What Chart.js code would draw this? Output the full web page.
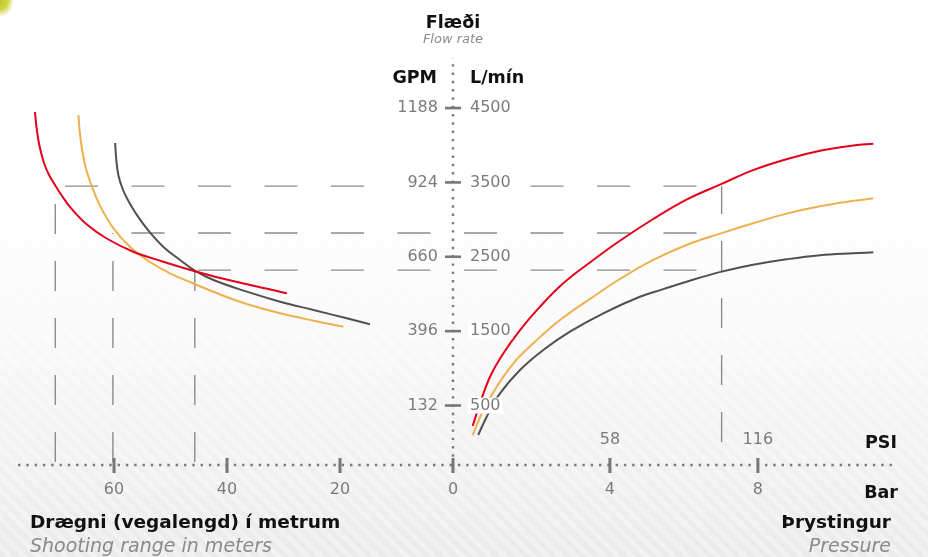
<!DOCTYPE html>
<html>
<head>
<meta charset="utf-8">
<script src="https://cdn.jsdelivr.net/npm/chart.js@4"></script>
<style>
  html, body { margin: 0; padding: 0; }
  body {
    width: 928px; height: 557px; overflow: hidden; position: relative;
    font-family: "DejaVu Sans", sans-serif;
    background:
      radial-gradient(ellipse 14px 17px at 0 0, #c2c62a 0, #cfd33e 55%, rgba(225,228,140,0) 100%),
      linear-gradient(to bottom, #ffffff 0%, #ffffff 34%, rgba(255,255,255,0.75) 60%, rgba(255,255,255,0.15) 100%),
      repeating-linear-gradient(45deg, #e7e7e7 0 5px, #efefef 5px 10px);
  }
  #wrap { position: absolute; left: 0; top: 0; width: 928px; height: 557px; }
  .t { position: absolute; white-space: nowrap; line-height: 1.164; font-family: "DejaVu Sans", sans-serif; }
  .b { font-weight: bold; color: #111; }
  .i { font-style: italic; color: #8a8a8a; }
</style>
</head>
<body>
<div id="wrap"><canvas id="c"></canvas></div>

<div class="t b" style="font-size:17.5px; left:453px; top:11.8px; transform:translateX(-50%);">Flæði</div>
<div class="t i" style="font-size:13px; left:453px; top:31.4px; transform:translateX(-50%);">Flow rate</div>
<div class="t b" style="font-size:17.5px; right:491px; top:66.8px;">GPM</div>
<div class="t b" style="font-size:17.5px; left:470px; top:66.8px;">L/mín</div>
<div class="t b" style="font-size:17.5px; right:31px; top:431.8px;">PSI</div>
<div class="t b" style="font-size:17.5px; right:30px; top:481.8px;">Bar</div>
<div class="t b" style="font-size:18.5px; left:30px; top:511.3px;">Drægni (vegalengd) í metrum</div>
<div class="t i" style="font-size:19px; left:30px; top:533.9px;">Shooting range in meters</div>
<div class="t b" style="font-size:18.5px; right:37px; top:511.3px;">Þrystingur</div>
<div class="t i" style="font-size:19px; right:37px; top:533.9px;">Pressure</div>

<script>
// ---------- Axis ticks ----------
const flowTicksLpm = [500, 1500, 2500, 3500, 4500];
const flowTicksGpm = [132, 396, 660, 924, 1188];
const rangeTicks = [60, 40, 20, 0];
const barTicks = [4, 8];
const psiTicks = [58, 116];

// ---------- Left panel: shooting range (m) vs flow (L/min) ----------
const redRangeM     = [74.0, 73.75, 73.4, 72.9, 72.3, 71.5, 70.4, 69.2, 67.8, 64.8, 61.3, 56.6, 51.3, 46.0, 41.2, 29.4];
const redRangeFlow  = [4447, 4259, 4071, 3896, 3741, 3600, 3459, 3318, 3170, 2934, 2746, 2568, 2434, 2313, 2215, 2009];
const yelRangeM     = [66.3, 66.1, 65.7, 65.0, 63.9, 62.4, 60.1, 57.2, 54.2, 50.1, 46.0, 41.2, 36.5, 30.6, 24.7, 19.4];
const yelRangeFlow  = [4407, 4205, 3963, 3694, 3443, 3174, 2883, 2636, 2457, 2278, 2144, 1993, 1865, 1740, 1641, 1560];
const grayRangeM    = [59.8, 59.6, 59.2, 58.4, 57.4, 56.3, 54.2, 51.3, 48.3, 45.7, 42.4, 36.5, 30.6, 24.7, 18.8, 14.7];
const grayRangeFlow = [4030, 3802, 3587, 3398, 3244, 3102, 2880, 2636, 2457, 2313, 2188, 2031, 1896, 1784, 1673, 1592];

// ---------- Right panel: pressure (bar) vs flow (L/min) ----------
const redPresBar    = [0.29, 0.49, 0.76, 1.12, 1.57, 2.11, 2.74, 3.55, 4.27, 5.17, 6.07, 7.02, 7.87, 8.77, 9.68, 10.58, 11.12];
const redPresFlow   = [224, 530, 887, 1202, 1515, 1829, 2144, 2457, 2716, 3008, 3269, 3480, 3665, 3812, 3925, 3997, 4021];
const yelPresBar    = [0.29, 0.58, 0.94, 1.39, 1.93, 2.65, 3.55, 4.27, 5.17, 6.07, 7.02, 7.87, 8.77, 9.68, 10.58, 11.12];
const yelPresFlow   = [103, 440, 753, 1068, 1337, 1650, 1963, 2201, 2457, 2659, 2818, 2950, 3080, 3180, 3252, 3287];
const grayPresBar   = [0.44, 0.67, 1.03, 1.57, 2.20, 2.92, 3.82, 4.81, 5.44, 6.07, 7.02, 7.87, 8.77, 9.68, 10.58, 11.12];
const grayPresFlow  = [103, 350, 664, 978, 1247, 1493, 1740, 1963, 2065, 2165, 2300, 2392, 2466, 2522, 2548, 2560];

// ---------- Reference (dashed) readings at 7 bar ----------
const refPressureBar = 7.02;
const refFlows  = [3450, 2820, 2320];
const refRanges = [70.4, 60.2, 45.7];

// ---------- Axis extents ----------
const flowMin = -300, flowMax = 5200;
const rangeMin = -78.6, rangeMax = 77.0;
const barMin = -12.0, barMax = 11.76;
const LPM_PER_GPM = 3.7854;
const PSI_PER_BAR = 14.5038;

const COLORS = { red: '#e2001a', yellow: '#eeb04e', gray: '#505050' };

const pts = (xs, ys) => xs.map((x, i) => ({ x: x, y: ys[i] }));
const ds = (label, xs, ys, color, xAxisID) => ({
  label, data: pts(xs, ys), xAxisID, yAxisID: 'y',
  borderColor: color, backgroundColor: color, borderWidth: 2,
  showLine: true, pointRadius: 0, pointHoverRadius: 0,
  tension: 0.4, cubicInterpolationMode: 'default', fill: false
});

const decor = {
  id: 'decor',
  beforeDatasetsDraw(chart) {
    const { ctx, chartArea: ca, scales } = chart;
    const { xr, xp, y } = scales;
    const x0 = xr.getPixelForValue(0);
    const yb = ca.bottom;
    const tickPix = flowTicksLpm.map(v => y.getPixelForValue(v));
    ctx.save();
    // dashed reference lines
    ctx.strokeStyle = '#8c8c8c';
    ctx.lineWidth = 1.4;
    const xR = xp.getPixelForValue(refPressureBar);
    let topY = yb;
    const period = 66.5, dash = 33, phase = 464;
    refFlows.forEach((f, i) => {
      const yy = y.getPixelForValue(f);
      const xl = xr.getPixelForValue(refRanges[i]);
      topY = Math.min(topY, yy);
      const nearLabel = tickPix.some(p => Math.abs(p - yy) < 10);
      ctx.beginPath();
      let s = phase - Math.ceil((phase - xl) / period) * period;
      for (; s < xR; s += period) {
        const a = Math.max(s, xl), b = Math.min(s + dash, xR);
        if (b <= a) continue;
        if (nearLabel && b > x0 - 60 && a < x0 + 75) continue;
        ctx.moveTo(a, yy); ctx.lineTo(b, yy);
      }
      ctx.stroke();
      ctx.setLineDash([30, 27]);
      ctx.lineDashOffset = 54;
      ctx.beginPath(); ctx.moveTo(xl, yb); ctx.lineTo(xl, yy); ctx.stroke();
      ctx.setLineDash([]);
    });
    ctx.setLineDash([30, 27]);
    ctx.lineDashOffset = 44;
    ctx.beginPath(); ctx.moveTo(xR, yb - 10); ctx.lineTo(xR, topY); ctx.stroke();

    // dotted axes
    ctx.strokeStyle = '#7a7a7a';
    ctx.lineWidth = 2.4;
    ctx.setLineDash([2.4, 5.9]);
    ctx.lineDashOffset = 0;
    ctx.beginPath(); ctx.moveTo(ca.left, yb); ctx.lineTo(ca.right, yb); ctx.stroke();
    ctx.beginPath(); ctx.moveTo(x0, yb); ctx.lineTo(x0, ca.top + 2); ctx.stroke();
    ctx.restore();
  },
  afterDatasetsDraw(chart) {
    const { ctx, chartArea: ca, scales } = chart;
    const { xr, xp, xpsi, y, yg } = scales;
    const x0 = xr.getPixelForValue(0);
    const yb = ca.bottom;
    ctx.save();
    ctx.setLineDash([]);
    ctx.font = '16px "DejaVu Sans", sans-serif';
    ctx.textBaseline = 'middle';

    // white backdrops behind the L/min labels
    ctx.fillStyle = '#ffffff';
    flowTicksLpm.forEach(v => {
      const w = ctx.measureText(String(v)).width;
      const py = y.getPixelForValue(v);
      ctx.fillRect(x0 + 15, py - 8, w + 4, 16);
    });

    // tick marks
    ctx.fillStyle = '#777777';
    rangeTicks.forEach(v => { const px = xr.getPixelForValue(v); ctx.fillRect(px - 1.5, yb - 7, 3, 15); });
    barTicks.forEach(v => { const px = xp.getPixelForValue(v); ctx.fillRect(px - 1.5, yb - 7, 3, 15); });
    flowTicksLpm.forEach(v => { const py = y.getPixelForValue(v); ctx.fillRect(x0 - 8, py - 1.3, 16, 2.6); });

    // tick labels
    const label = (txt, x, yy, align) => {
      ctx.textAlign = align;
      ctx.fillStyle = '#7b7b7b';
      ctx.fillText(txt, x, yy);
    };
    flowTicksGpm.forEach(v => label(String(v), x0 - 15, yg.getPixelForValue(v), 'right'));
    flowTicksLpm.forEach(v => label(String(v), x0 + 17, y.getPixelForValue(v), 'left'));
    rangeTicks.forEach(v => label(String(v), xr.getPixelForValue(v), yb + 25, 'center'));
    barTicks.forEach(v => label(String(v), xp.getPixelForValue(v), yb + 25, 'center'));
    psiTicks.forEach(v => label(String(v), xpsi.getPixelForValue(v), yb - 25, 'center'));
    ctx.restore();
  }
};

new Chart(document.getElementById('c'), {
  type: 'scatter',
  data: {
    datasets: [
      ds('Rauður – drægni', redRangeM, redRangeFlow, COLORS.red, 'xr'),
      ds('Gulur – drægni', yelRangeM, yelRangeFlow, COLORS.yellow, 'xr'),
      ds('Grár – drægni', grayRangeM, grayRangeFlow, COLORS.gray, 'xr'),
      ds('Rauður – þrýstingur', redPresBar, redPresFlow, COLORS.red, 'xp'),
      ds('Gulur – þrýstingur', yelPresBar, yelPresFlow, COLORS.yellow, 'xp'),
      ds('Grár – þrýstingur', grayPresBar, grayPresFlow, COLORS.gray, 'xp')
    ]
  },
  options: {
    responsive: true,
    maintainAspectRatio: false,
    animation: false,
    events: [],
    layout: { padding: { left: 18, right: 31, top: 56, bottom: 92 } },
    plugins: { legend: { display: false }, tooltip: { enabled: false }, title: { display: false } },
    scales: {
      xr:   { type: 'linear', axis: 'x', position: 'bottom', reverse: true, min: rangeMin, max: rangeMax, display: false, bounds: 'data' },
      xp:   { type: 'linear', axis: 'x', position: 'bottom', min: barMin, max: barMax, display: false, bounds: 'data' },
      xpsi: { type: 'linear', axis: 'x', position: 'bottom', min: barMin * PSI_PER_BAR, max: barMax * PSI_PER_BAR, display: false, bounds: 'data' },
      y:    { type: 'linear', axis: 'y', position: 'left', min: flowMin, max: flowMax, display: false, bounds: 'data' },
      yg:   { type: 'linear', axis: 'y', position: 'left', min: flowMin / LPM_PER_GPM, max: flowMax / LPM_PER_GPM, display: false, bounds: 'data' }
    }
  },
  plugins: [decor]
});
</script>
</body>
</html>
